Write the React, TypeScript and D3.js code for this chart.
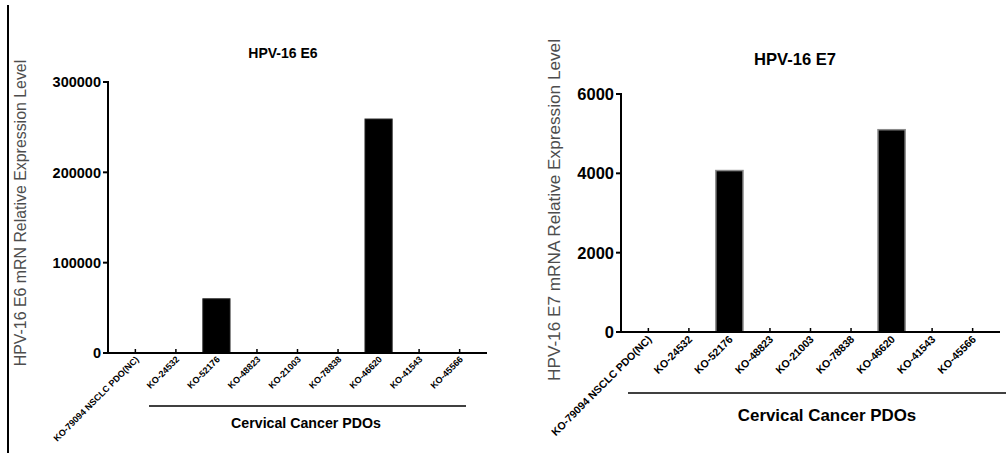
import React, { useEffect, useRef } from 'react';
import * as d3 from 'd3';

const categories = [
  'KO-79094 NSCLC PDO(NC)',
  'KO-24532',
  'KO-52176',
  'KO-48823',
  'KO-21003',
  'KO-78838',
  'KO-46620',
  'KO-41543',
  'KO-45566',
];

const e6Values = [0, 0, 60000, 0, 0, 0, 259000, 0, 0];
const e7Values = [0, 0, 4070, 0, 0, 0, 5100, 0, 0];

const e6Ticks = [0, 100000, 200000, 300000];
const e7Ticks = [0, 2000, 4000, 6000];

const groupLabel = 'Cervical Cancer PDOs';

const FONT = '"Liberation Sans", Arial, sans-serif';

const drawPanel = (svg, p) => {
  const g = svg.append('g');

  const x = d3
    .scaleBand()
    .domain(categories)
    .range([p.x0, p.x1])
    .paddingInner(0.33)
    .paddingOuter(0.34);

  const y = d3.scaleLinear().domain([0, p.yMax]).range([p.y0, p.yTop]);

  // bars
  g.selectAll('rect.bar')
    .data(p.values)
    .join('rect')
    .attr('class', 'bar')
    .attr('x', (d, i) => x(categories[i]))
    .attr('width', x.bandwidth())
    .attr('y', (d) => y(d))
    .attr('height', (d) => y(0) - y(d))
    .attr('fill', '#000')
    .attr('stroke', p.barStroke)
    .attr('stroke-width', p.barStrokeWidth)
    .style('display', (d) => (d > 0 ? null : 'none'));

  // y axis
  g.append('line')
    .attr('x1', p.x0)
    .attr('x2', p.x0)
    .attr('y1', y(0) + 1)
    .attr('y2', y(p.yMax) - 1)
    .attr('stroke', '#000')
    .attr('stroke-width', 2);

  g.selectAll('line.ytick')
    .data(p.ticks)
    .join('line')
    .attr('class', 'ytick')
    .attr('x1', p.x0 - 5)
    .attr('x2', p.x0)
    .attr('y1', (d) => y(d))
    .attr('y2', (d) => y(d))
    .attr('stroke', '#000')
    .attr('stroke-width', 2);

  g.selectAll('text.ylab')
    .data(p.ticks)
    .join('text')
    .attr('class', 'ylab')
    .attr('x', p.x0 - 7)
    .attr('y', (d) => y(d))
    .attr('dy', '0.36em')
    .attr('text-anchor', 'end')
    .attr('font-family', FONT)
    .attr('font-weight', 'bold')
    .attr('font-size', p.tickFont)
    .text((d) => d);

  // x axis
  g.append('line')
    .attr('x1', p.x0 - 1)
    .attr('x2', p.x1)
    .attr('y1', y(0))
    .attr('y2', y(0))
    .attr('stroke', '#000')
    .attr('stroke-width', 2);

  g.selectAll('line.xtick')
    .data(categories)
    .join('line')
    .attr('class', 'xtick')
    .attr('x1', (d) => x(d) + x.bandwidth() / 2)
    .attr('x2', (d) => x(d) + x.bandwidth() / 2)
    .attr('y1', y(0))
    .attr('y2', y(0) - 4)
    .attr('stroke', '#000')
    .attr('stroke-width', 1.5);

  g.selectAll('text.xlab')
    .data(categories)
    .join('text')
    .attr('class', 'xlab')
    .attr('text-anchor', 'end')
    .attr('font-family', FONT)
    .attr('font-weight', 'bold')
    .attr('font-size', p.catFont)
    .attr(
      'transform',
      (d) => `translate(${x(d) + x.bandwidth() / 2 + 4},${y(0) + p.catOffset}) rotate(-45)`
    )
    .text((d) => d);

  // title
  g.append('text')
    .attr('x', p.titleX)
    .attr('y', p.titleY)
    .attr('text-anchor', 'middle')
    .attr('font-family', FONT)
    .attr('font-weight', 'bold')
    .attr('font-size', p.titleFont)
    .text(p.title);

  // y label
  g.append('text')
    .attr('transform', `translate(${p.yLabelX},${p.yLabelY}) rotate(-90)`)
    .attr('text-anchor', 'middle')
    .attr('font-family', FONT)
    .attr('font-size', p.yLabelFont)
    .attr('fill', '#4d4d4d')
    .text(p.yLabel);

  // group bracket
  g.append('line')
    .attr('x1', p.groupX0)
    .attr('x2', p.groupX1)
    .attr('y1', p.groupY)
    .attr('y2', p.groupY)
    .attr('stroke', '#000')
    .attr('stroke-width', 1.5);

  g.append('text')
    .attr('x', p.groupTextX)
    .attr('y', p.groupTextY)
    .attr('text-anchor', 'middle')
    .attr('font-family', FONT)
    .attr('font-weight', 'bold')
    .attr('font-size', p.groupFont)
    .text(groupLabel);
};

const App = () => {
  const svgRef = useRef();

  useEffect(() => {
    const svg = d3.select(svgRef.current);
    svg.selectAll('*').remove();

    // left frame line
    svg
      .append('line')
      .attr('x1', 8)
      .attr('x2', 8)
      .attr('y1', 5)
      .attr('y2', 453)
      .attr('stroke', '#000')
      .attr('stroke-width', 2);

    drawPanel(svg, {
      values: e6Values,
      ticks: e6Ticks,
      yMax: 300000,
      x0: 108,
      x1: 487,
      y0: 353,
      yTop: 82,
      barStroke: '#222',
      barStrokeWidth: 1,
      tickFont: 14.5,
      catFont: 9,
      catOffset: 7,
      title: 'HPV-16 E6',
      titleX: 283,
      titleY: 58,
      titleFont: 14,
      yLabel: 'HPV-16 E6 mRN Relative Expression Level',
      yLabelX: 26,
      yLabelY: 213,
      yLabelFont: 15.9,
      groupX0: 149,
      groupX1: 466,
      groupY: 406,
      groupTextX: 306,
      groupTextY: 428,
      groupFont: 14.2,
    });

    drawPanel(svg, {
      values: e7Values,
      ticks: e7Ticks,
      yMax: 6000,
      x0: 621,
      x1: 1000,
      y0: 332,
      yTop: 94,
      barStroke: '#8a8a8a',
      barStrokeWidth: 1.5,
      tickFont: 16.5,
      catFont: 10.6,
      catOffset: 8,
      title: 'HPV-16 E7',
      titleX: 795,
      titleY: 65,
      titleFont: 16.6,
      yLabel: 'HPV-16 E7 mRNA Relative Expression Level',
      yLabelX: 560,
      yLabelY: 210,
      yLabelFont: 17.2,
      groupX0: 628,
      groupX1: 1006,
      groupY: 393,
      groupTextX: 827,
      groupTextY: 421,
      groupFont: 16.9,
    });
  }, []);

  return (
    <svg
      ref={svgRef}
      width={1006}
      height={453}
      style={{ position: 'absolute', left: 0, top: 0, background: '#fff' }}
    />
  );
};

export default App;
